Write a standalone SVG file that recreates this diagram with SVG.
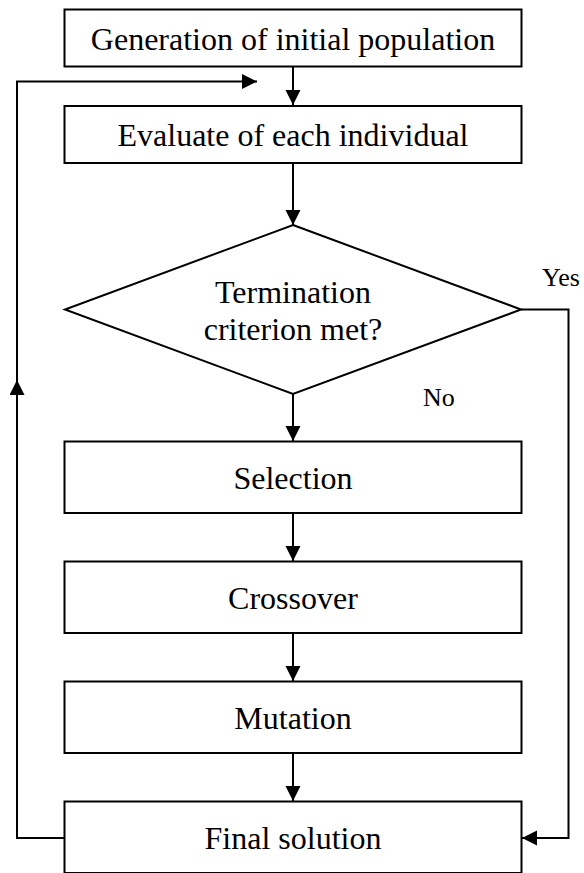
<svg xmlns="http://www.w3.org/2000/svg" width="584" height="873" viewBox="0 0 584 873">
  <style>
    .box { fill: #ffffff; stroke: #000000; stroke-width: 2; }
    .lbl { font-family: "Liberation Serif", "Times New Roman", serif; font-size: 32px; fill: #000000; text-anchor: middle; }
    .tag { font-family: "Liberation Serif", "Times New Roman", serif; font-size: 26px; fill: #000000; }
    .wire { fill: none; stroke: #000000; stroke-width: 2; }
  </style>
  <defs>
    <marker id="head" markerUnits="userSpaceOnUse" markerWidth="16" markerHeight="16" refX="15" refY="7.5" orient="auto">
      <path d="M0,0 L15,7.5 L0,15 z" fill="#000000"/>
    </marker>
  </defs>

  <rect width="584" height="873" fill="#ffffff"/>

  <g id="connectors">
    <!-- main flow -->
    <line class="wire" x1="293" y1="67" x2="293" y2="105" marker-end="url(#head)"/>
    <line class="wire" x1="293" y1="163" x2="293" y2="225" marker-end="url(#head)"/>
    <line class="wire" x1="293" y1="394" x2="293" y2="441" marker-end="url(#head)"/>
    <line class="wire" x1="293" y1="513" x2="293" y2="561" marker-end="url(#head)"/>
    <line class="wire" x1="293" y1="633" x2="293" y2="681" marker-end="url(#head)"/>
    <line class="wire" x1="293" y1="753" x2="293" y2="801" marker-end="url(#head)"/>
    <!-- loop back from final solution to the top -->
    <polyline class="wire" points="64,838 17,838 17,380" marker-end="url(#head)"/>
    <polyline class="wire" points="17,381 17,81.5 257,81.5" marker-end="url(#head)"/>
    <!-- yes branch -->
    <polyline class="wire" points="521,309.5 568.5,309.5 568.5,838 522,838" marker-end="url(#head)"/>
    <text class="tag" x="542" y="286">Yes</text>
    <text class="tag" x="423" y="406">No</text>
  </g>

  <g id="init">
    <rect class="box" x="64.5" y="9.5" width="457" height="57"/>
    <text class="lbl" x="293" y="50">Generation of initial population</text>
  </g>

  <g id="evaluate">
    <rect class="box" x="64.5" y="106" width="457" height="57"/>
    <text class="lbl" x="293" y="145.5">Evaluate of each individual</text>
  </g>

  <g id="termination">
    <polygon class="box" points="293,225 521,309.5 293,394 65,309.5"/>
    <text class="lbl" x="293" y="303">Termination</text>
    <text class="lbl" x="293" y="340">criterion met?</text>
  </g>

  <g id="selection">
    <rect class="box" x="64.5" y="441.5" width="457" height="71.5"/>
    <text class="lbl" x="293" y="488.5">Selection</text>
  </g>

  <g id="crossover">
    <rect class="box" x="64.5" y="561.5" width="457" height="71.5"/>
    <text class="lbl" x="293" y="608.5">Crossover</text>
  </g>

  <g id="mutation">
    <rect class="box" x="64.5" y="681.5" width="457" height="71.5"/>
    <text class="lbl" x="293" y="728.5">Mutation</text>
  </g>

  <g id="final">
    <rect class="box" x="64.5" y="801.5" width="457" height="71.5"/>
    <text class="lbl" x="293" y="848.5">Final solution</text>
  </g>
</svg>
